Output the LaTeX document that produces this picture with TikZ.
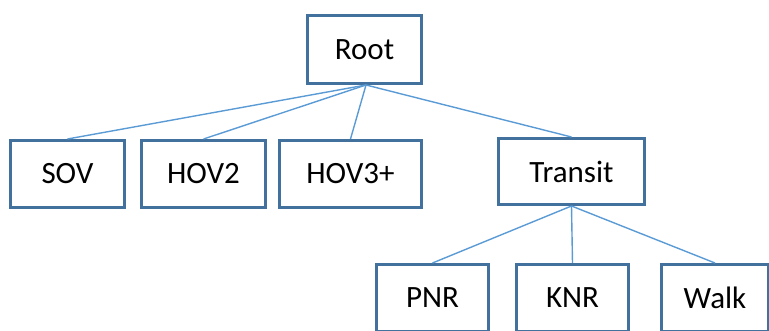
\documentclass[tikz,border=0pt]{standalone}
\usepackage{fontspec}
\setmainfont{Carlito}
\definecolor{boxline}{HTML}{41719C}
\definecolor{linkline}{HTML}{5B9BD5}
\begin{document}
\begin{tikzpicture}[x=1pt,y=-1pt,
  mode/.style={draw=boxline, line width=3pt, fill=white, rectangle,
    inner sep=0pt, minimum height=67pt, font=\fontsize{31}{36}\selectfont},
  link/.style={draw=linkline, line width=1.4pt}]
  \useasboundingbox (0,0) rectangle (769,331);
  \clip (0,0) rectangle (769,331);
  \node[mode, minimum width=114pt, minimum height=68pt] (root) at (364.5,49.5) {Root};
  \node[mode, minimum width=114pt] (sov) at (67.5,174) {SOV};
  \node[mode, minimum width=124pt] (hov2) at (203.5,174) {HOV2};
  \node[mode, minimum width=142pt] (hov3) at (350.5,174) {HOV3+};
  \node[mode, minimum width=146pt, minimum height=66pt] (transit) at (571.5,171.5) {Transit};
  \node[mode, minimum width=112pt] (pnr) at (432.5,298) {PNR};
  \node[mode, minimum width=112pt] (knr) at (572.5,298) {KNR};
  \node[mode, minimum width=107pt] (walk) at (715,298) {Walk};
  \foreach \c in {sov,hov2,hov3,transit}
    \draw[link] ([xshift=1.5pt]root.south) -- (\c.north);
  \foreach \c in {pnr,knr,walk}
    \draw[link] (transit.south) -- (\c.north);
\end{tikzpicture}
\end{document}
